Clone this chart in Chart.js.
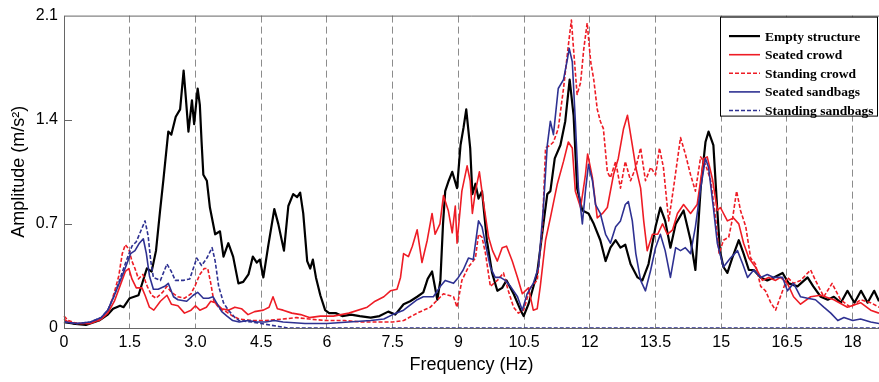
<!DOCTYPE html>
<html>
<head>
<meta charset="utf-8">
<script src="https://cdn.jsdelivr.net/npm/chart.js@4.4.1/dist/chart.umd.min.js"></script>
<style>
  html, body { margin: 0; padding: 0; background: #fff; }
</style>
</head>
<body>
<canvas id="chart" width="879" height="382"></canvas>
<script>
// tick labels
const xTickLabels = ['0', '1.5', '3.0', '4.5', '6', '7.5', '9', '10.5', '12', '13.5', '15', '16.5', '18'];
const yTickLabels = ['0', '0.7', '1.4', '2.1'];

const seriesNames = ['Empty structure', 'Seated crowd', 'Standing crowd', 'Seated sandbags', 'Standing sandbags'];

// Empty structure (black)
const emptyF = [0, 0.2, 0.5, 0.8, 1.0, 1.12, 1.28, 1.36, 1.5, 1.7, 1.89, 2.0, 2.1, 2.19, 2.27, 2.38, 2.45, 2.55, 2.65, 2.73, 2.78, 2.84, 2.92, 2.97, 3.05, 3.1, 3.14, 3.18, 3.26, 3.33, 3.45, 3.56, 3.64, 3.75, 3.86, 3.98, 4.09, 4.21, 4.31, 4.4, 4.47, 4.55, 4.66, 4.8, 4.89, 5.02, 5.12, 5.23, 5.32, 5.39, 5.46, 5.55, 5.62, 5.68, 5.75, 5.85, 5.96, 6.05, 6.2, 6.35, 6.55, 6.75, 7.0, 7.2, 7.4, 7.56, 7.75, 7.9, 8.06, 8.2, 8.3, 8.4, 8.52, 8.59, 8.65, 8.7, 8.78, 8.86, 8.97, 9.05, 9.12, 9.18, 9.27, 9.32, 9.39, 9.46, 9.54, 9.65, 9.77, 9.89, 10.0, 10.1, 10.26, 10.42, 10.49, 10.6, 10.8, 10.95, 11.03, 11.1, 11.2, 11.33, 11.44, 11.54, 11.63, 11.71, 11.83, 11.97, 12.09, 12.24, 12.36, 12.47, 12.59, 12.7, 12.81, 12.93, 13.09, 13.2, 13.34, 13.5, 13.61, 13.72, 13.84, 13.96, 14.14, 14.3, 14.41, 14.53, 14.64, 14.71, 14.82, 14.91, 14.97, 15.05, 15.14, 15.25, 15.4, 15.51, 15.63, 15.74, 15.9, 16.05, 16.2, 16.4, 16.54, 16.74, 16.97, 17.1, 17.27, 17.43, 17.57, 17.73, 17.88, 18.04, 18.19, 18.34, 18.49, 18.6];
const emptyA = [0.04, 0.03, 0.02, 0.05, 0.09, 0.13, 0.15, 0.14, 0.2, 0.22, 0.4, 0.38, 0.52, 0.78, 1.0, 1.32, 1.3, 1.42, 1.47, 1.73, 1.55, 1.32, 1.53, 1.37, 1.61, 1.5, 1.25, 1.03, 0.99, 0.81, 0.63, 0.65, 0.48, 0.57, 0.48, 0.3, 0.31, 0.36, 0.48, 0.44, 0.46, 0.34, 0.55, 0.8, 0.7, 0.52, 0.82, 0.9, 0.88, 0.91, 0.77, 0.45, 0.4, 0.46, 0.34, 0.22, 0.12, 0.1, 0.1, 0.08, 0.09, 0.08, 0.07, 0.08, 0.11, 0.09, 0.16, 0.18, 0.21, 0.24, 0.33, 0.38, 0.19, 0.32, 0.7, 0.92, 0.99, 1.05, 0.94, 1.23, 1.35, 1.47, 1.21, 0.9, 0.97, 0.87, 0.92, 0.59, 0.37, 0.25, 0.27, 0.32, 0.23, 0.12, 0.08, 0.16, 0.37, 0.72, 0.9, 0.92, 1.14, 1.23, 1.39, 1.67, 1.43, 0.94, 0.79, 0.77, 0.7, 0.59, 0.45, 0.54, 0.59, 0.54, 0.56, 0.43, 0.34, 0.32, 0.43, 0.68, 0.81, 0.72, 0.54, 0.7, 0.79, 0.59, 0.39, 0.94, 1.25, 1.32, 1.23, 0.79, 0.52, 0.41, 0.37, 0.47, 0.59, 0.5, 0.39, 0.39, 0.34, 0.32, 0.34, 0.37, 0.3, 0.28, 0.34, 0.28, 0.21, 0.19, 0.21, 0.17, 0.25, 0.17, 0.25, 0.17, 0.25, 0.18];

// Seated crowd (red solid)
const seatedCrowdF = [0, 0.1, 0.3, 0.6, 0.85, 1.0, 1.15, 1.3, 1.4, 1.48, 1.55, 1.65, 1.78, 1.85, 1.95, 2.05, 2.2, 2.35, 2.45, 2.6, 2.75, 2.9, 3.0, 3.1, 3.25, 3.35, 3.45, 3.6, 3.75, 3.9, 4.05, 4.2, 4.35, 4.55, 4.68, 4.77, 4.87, 5.0, 5.2, 5.4, 5.6, 5.85, 6.15, 6.5, 6.92, 7.1, 7.3, 7.45, 7.6, 7.68, 7.75, 7.86, 7.95, 8.06, 8.17, 8.29, 8.4, 8.47, 8.58, 8.66, 8.77, 8.86, 8.93, 8.97, 9.08, 9.2, 9.27, 9.32, 9.39, 9.48, 9.57, 9.69, 9.78, 9.89, 10.0, 10.1, 10.23, 10.35, 10.46, 10.6, 10.71, 10.8, 10.87, 10.99, 11.1, 11.26, 11.4, 11.51, 11.6, 11.67, 11.79, 11.9, 11.95, 12.06, 12.17, 12.29, 12.4, 12.54, 12.65, 12.77, 12.86, 12.97, 13.05, 13.16, 13.23, 13.31, 13.43, 13.55, 13.66, 13.77, 13.89, 14.0, 14.14, 14.3, 14.45, 14.6, 14.68, 14.8, 14.91, 14.98, 15.14, 15.28, 15.4, 15.51, 15.63, 15.78, 15.94, 16.08, 16.24, 16.35, 16.51, 16.65, 16.81, 17.04, 17.27, 17.57, 17.88, 18.18, 18.41, 18.6];
const seatedCrowdA = [0.06, 0.04, 0.03, 0.03, 0.06, 0.1, 0.18, 0.3, 0.38, 0.4, 0.33, 0.27, 0.27, 0.22, 0.14, 0.12, 0.18, 0.22, 0.16, 0.15, 0.1, 0.12, 0.15, 0.12, 0.14, 0.18, 0.17, 0.13, 0.12, 0.14, 0.13, 0.09, 0.11, 0.12, 0.14, 0.21, 0.13, 0.12, 0.1, 0.09, 0.07, 0.08, 0.08, 0.1, 0.14, 0.18, 0.21, 0.25, 0.26, 0.34, 0.5, 0.48, 0.55, 0.66, 0.44, 0.59, 0.77, 0.63, 0.7, 0.89, 0.79, 0.64, 0.82, 0.57, 0.92, 1.09, 0.99, 0.77, 0.92, 1.05, 0.85, 0.61, 0.52, 0.45, 0.54, 0.55, 0.45, 0.34, 0.23, 0.27, 0.12, 0.13, 0.28, 0.59, 0.74, 0.97, 1.12, 1.25, 1.21, 0.92, 0.81, 1.03, 1.17, 1.01, 0.74, 0.77, 0.81, 1.03, 1.14, 1.34, 1.43, 1.23, 1.08, 0.94, 0.72, 0.52, 0.63, 0.63, 0.7, 0.63, 0.66, 0.77, 0.83, 0.77, 0.83, 1.14, 1.15, 1.0, 0.79, 0.81, 0.72, 0.74, 0.7, 0.57, 0.47, 0.41, 0.32, 0.34, 0.32, 0.34, 0.3, 0.21, 0.16, 0.21, 0.22, 0.19, 0.14, 0.17, 0.12, 0.1];

// Standing crowd (red dashed)
const standingCrowdF = [0, 0.1, 0.3, 0.55, 0.8, 0.95, 1.05, 1.15, 1.25, 1.33, 1.4, 1.48, 1.55, 1.62, 1.7, 1.8, 1.9, 2.0, 2.1, 2.25, 2.35, 2.45, 2.6, 2.75, 2.9, 3.0, 3.1, 3.2, 3.28, 3.35, 3.42, 3.55, 3.7, 3.85, 4.0, 4.3, 4.6, 5.0, 5.3, 5.6, 6.0, 6.4, 6.8, 7.2, 7.5, 7.75, 8.06, 8.36, 8.66, 8.89, 8.97, 9.08, 9.23, 9.39, 9.46, 9.54, 9.62, 9.73, 9.89, 10.03, 10.14, 10.26, 10.37, 10.49, 10.64, 10.8, 10.92, 10.99, 11.1, 11.17, 11.28, 11.4, 11.51, 11.58, 11.63, 11.71, 11.79, 11.86, 11.94, 12.02, 12.09, 12.17, 12.24, 12.31, 12.4, 12.47, 12.59, 12.7, 12.81, 12.93, 13.05, 13.16, 13.27, 13.39, 13.5, 13.59, 13.68, 13.8, 13.91, 14.07, 14.18, 14.3, 14.41, 14.53, 14.64, 14.76, 14.87, 14.95, 15.05, 15.17, 15.26, 15.35, 15.44, 15.56, 15.67, 15.78, 15.9, 16.01, 16.13, 16.24, 16.35, 16.51, 16.65, 16.81, 17.04, 17.15, 17.34, 17.53, 17.72, 17.95, 18.18, 18.41, 18.6];
const standingCrowdA = [0.08, 0.05, 0.03, 0.03, 0.05, 0.09, 0.15, 0.24, 0.35, 0.5, 0.56, 0.53, 0.45, 0.4, 0.33, 0.36, 0.28, 0.22, 0.2, 0.24, 0.28, 0.24, 0.21, 0.2, 0.23, 0.29, 0.36, 0.4, 0.4, 0.3, 0.18, 0.13, 0.11, 0.08, 0.06, 0.05, 0.05, 0.06, 0.07, 0.06, 0.05, 0.05, 0.04, 0.04, 0.04, 0.05, 0.1, 0.14, 0.23, 0.21, 0.14, 0.32, 0.41, 0.47, 0.63, 0.61, 0.5, 0.28, 0.32, 0.37, 0.25, 0.14, 0.1, 0.12, 0.27, 0.32, 0.68, 1.21, 1.23, 1.25, 1.34, 1.61, 1.9, 2.07, 1.87, 1.57, 1.65, 1.87, 2.05, 1.79, 1.67, 1.47, 1.39, 1.34, 1.05, 1.01, 1.12, 0.94, 1.12, 0.99, 1.08, 1.21, 0.99, 1.08, 1.03, 1.21, 1.08, 0.72, 0.94, 1.28, 1.17, 1.03, 0.92, 1.15, 1.1, 0.99, 0.74, 0.5, 0.59, 0.61, 0.74, 0.92, 0.79, 0.68, 0.47, 0.43, 0.28, 0.25, 0.17, 0.12, 0.21, 0.34, 0.3, 0.32, 0.39, 0.32, 0.21, 0.3, 0.19, 0.14, 0.19, 0.17, 0.14];

// Seated sandbags (blue solid)
const seatedBagsF = [0, 0.3, 0.6, 0.85, 1.0, 1.15, 1.3, 1.42, 1.52, 1.62, 1.72, 1.81, 1.88, 1.95, 2.04, 2.15, 2.3, 2.38, 2.5, 2.6, 2.8, 2.95, 3.05, 3.18, 3.3, 3.4, 3.5, 3.6, 3.72, 3.85, 4.0, 4.2, 4.4, 4.6, 4.8, 5.0, 5.5, 6.0, 6.5, 7.0, 7.3, 7.5, 7.75, 8.06, 8.2, 8.43, 8.59, 8.7, 8.89, 9.0, 9.11, 9.23, 9.34, 9.46, 9.54, 9.65, 9.73, 9.84, 9.96, 10.07, 10.19, 10.35, 10.46, 10.57, 10.71, 10.83, 10.94, 11.03, 11.1, 11.17, 11.28, 11.4, 11.49, 11.53, 11.6, 11.67, 11.74, 11.83, 11.9, 11.97, 12.06, 12.13, 12.24, 12.36, 12.47, 12.59, 12.7, 12.81, 12.88, 12.97, 13.05, 13.16, 13.27, 13.39, 13.5, 13.61, 13.72, 13.84, 13.96, 14.07, 14.18, 14.3, 14.41, 14.53, 14.64, 14.71, 14.82, 14.91, 15.05, 15.21, 15.37, 15.49, 15.6, 15.74, 15.9, 16.05, 16.2, 16.4, 16.51, 16.65, 16.81, 16.97, 17.15, 17.34, 17.5, 17.66, 17.8, 18.0, 18.18, 18.41, 18.6];
const seatedBagsA = [0.04, 0.03, 0.04, 0.07, 0.12, 0.22, 0.33, 0.42, 0.5, 0.52, 0.57, 0.6, 0.5, 0.35, 0.26, 0.26, 0.28, 0.3, 0.21, 0.19, 0.18, 0.22, 0.24, 0.2, 0.2, 0.21, 0.16, 0.11, 0.08, 0.05, 0.04, 0.05, 0.04, 0.04, 0.05, 0.04, 0.03, 0.03, 0.04, 0.05, 0.06, 0.09, 0.12, 0.19, 0.21, 0.21, 0.28, 0.32, 0.3, 0.34, 0.39, 0.47, 0.46, 0.72, 0.68, 0.52, 0.41, 0.34, 0.34, 0.32, 0.28, 0.21, 0.12, 0.23, 0.3, 0.41, 0.81, 1.23, 1.39, 1.3, 1.61, 1.67, 1.81, 1.88, 1.79, 1.39, 0.94, 0.7, 0.92, 1.1, 0.99, 0.83, 0.77, 0.63, 0.57, 0.68, 0.72, 0.83, 0.85, 0.72, 0.5, 0.32, 0.25, 0.39, 0.54, 0.63, 0.52, 0.34, 0.54, 0.52, 0.54, 0.5, 0.68, 0.94, 1.14, 1.08, 0.81, 0.57, 0.41, 0.47, 0.52, 0.43, 0.34, 0.39, 0.34, 0.36, 0.34, 0.34, 0.25, 0.3, 0.21, 0.2, 0.19, 0.14, 0.1, 0.05, 0.07, 0.05, 0.06, 0.04, 0.03];

// Standing sandbags (blue dashed)
const standingBagsF = [0, 0.3, 0.6, 0.85, 1.0, 1.15, 1.3, 1.42, 1.55, 1.65, 1.75, 1.85, 1.92, 1.98, 2.04, 2.2, 2.35, 2.45, 2.54, 2.72, 2.87, 2.95, 3.03, 3.14, 3.26, 3.38, 3.45, 3.53, 3.64, 3.75, 3.9, 4.0, 4.3, 4.5, 4.7, 4.9, 5.1, 18.6];
const standingBagsA = [0.04, 0.03, 0.04, 0.07, 0.12, 0.22, 0.35, 0.45, 0.55, 0.58, 0.65, 0.72, 0.62, 0.45, 0.34, 0.32, 0.43, 0.38, 0.32, 0.32, 0.33, 0.4, 0.47, 0.42, 0.47, 0.54, 0.45, 0.28, 0.17, 0.12, 0.07, 0.05, 0.04, 0.03, 0.02, 0.01, 0, 0];

const colors = ['#000000', '#ee1c25', '#ee1c25', '#2e3192', '#2e3192'];
const dashes = [[], [], [4, 2], [], [4, 2]];
const widths = [2.2, 1.6, 1.6, 1.6, 1.6];
const freqs = [emptyF, seatedCrowdF, standingCrowdF, seatedBagsF, standingBagsF];
const amps = [emptyA, seatedCrowdA, standingCrowdA, seatedBagsA, standingBagsA];

const pts = (f, a) => f.map((x, i) => ({ x, y: a[i] }));

const datasets = seriesNames.map((name, i) => ({
  label: name,
  data: pts(freqs[i], amps[i]),
  borderColor: colors[i],
  borderDash: dashes[i],
  borderWidth: widths[i],
  pointRadius: 0,
  tension: 0,
  borderJoinStyle: 'round',
  clip: 3,
  order: seriesNames.length - 1 - i,
}));

// frame, inner y ticks and boxed legend
const decor = {
  id: 'decor',
  afterDraw(chart) {
    const { ctx, chartArea: a } = chart;
    const ys = chart.scales.y;
    ctx.save();
    ctx.strokeStyle = '#666';
    ctx.lineWidth = 1;
    ctx.beginPath();
    ctx.moveTo(a.left + 0.5, a.bottom);
    ctx.lineTo(a.left + 0.5, a.top + 0.5);
    ctx.lineTo(a.right, a.top + 0.5);
    ctx.moveTo(a.left, a.bottom + 0.5);
    ctx.lineTo(a.right, a.bottom + 0.5);
    for (let k = 1; k < yTickLabels.length - 1; k++) {
      const py = Math.round(ys.getPixelForValue(k * 0.7)) + 0.5;
      ctx.moveTo(a.left, py);
      ctx.lineTo(a.left + 8, py);
    }
    ctx.stroke();

    // legend box
    const bx = 720.5, by = a.top + 1.5, bw = 157, bh = 99;
    ctx.fillStyle = '#fff';
    ctx.fillRect(bx, by, bw, bh);
    ctx.strokeStyle = '#000';
    ctx.strokeRect(bx, by, bw, bh);
    ctx.font = 'bold 13.5px "Liberation Serif", "Times New Roman", serif';
    ctx.textBaseline = 'middle';
    ctx.textAlign = 'left';
    chart.data.datasets.forEach((d, i) => {
      const ry = by + 19 + i * 18.6;
      ctx.strokeStyle = d.borderColor;
      ctx.lineWidth = d.borderWidth;
      ctx.setLineDash(d.borderDash);
      ctx.beginPath();
      ctx.moveTo(729, ry);
      ctx.lineTo(760, ry);
      ctx.stroke();
      ctx.setLineDash([]);
      ctx.fillStyle = '#000';
      ctx.fillText(d.label, 765, ry + 1);
    });
    ctx.restore();
  }
};

new Chart(document.getElementById('chart'), {
  type: 'line',
  data: { datasets },
  options: {
    responsive: false,
    animation: false,
    events: [],
    layout: { padding: { top: 12, right: 0, bottom: 0, left: 0 } },
    plugins: { legend: { display: false }, tooltip: { enabled: false } },
    scales: {
      x: {
        type: 'linear',
        min: 0,
        max: 18.6,
        afterFit: (s) => { s.height = 54; },
        border: { display: false, dash: [7, 4] },
        grid: { color: '#8c8c8c', lineWidth: 1, drawTicks: false },
        ticks: {
          stepSize: 1.5,
          includeBounds: false,
          padding: 5,
          color: '#000',
          maxRotation: 0,
          autoSkip: false,
          font: { family: 'Arial, "Liberation Sans", sans-serif', size: 16 },
          callback: (v) => xTickLabels[Math.round(v / 1.5)] ?? '',
        },
        title: {
          display: true,
          text: 'Frequency (Hz)',
          color: '#000',
          font: { family: 'Arial, "Liberation Sans", sans-serif', size: 18, lineHeight: 1 },
          padding: { top: 0, bottom: 8 },
        },
      },
      y: {
        min: 0,
        max: 2.1,
        afterFit: (s) => { s.width = 64; },
        border: { display: false },
        grid: { display: false, drawTicks: false },
        ticks: {
          stepSize: 0.7,
          padding: 6,
          color: '#000',
          font: { family: 'Arial, "Liberation Sans", sans-serif', size: 16 },
          callback: (v) => yTickLabels[Math.round(v / 0.7)] ?? '',
        },
        title: {
          display: true,
          text: 'Amplitude (m/s²)',
          color: '#000',
          font: { family: 'Arial, "Liberation Sans", sans-serif', size: 18, lineHeight: 1 },
          padding: { top: 10, bottom: 0 },
        },
      },
    },
  },
  plugins: [decor],
});
</script>
</body>
</html>
